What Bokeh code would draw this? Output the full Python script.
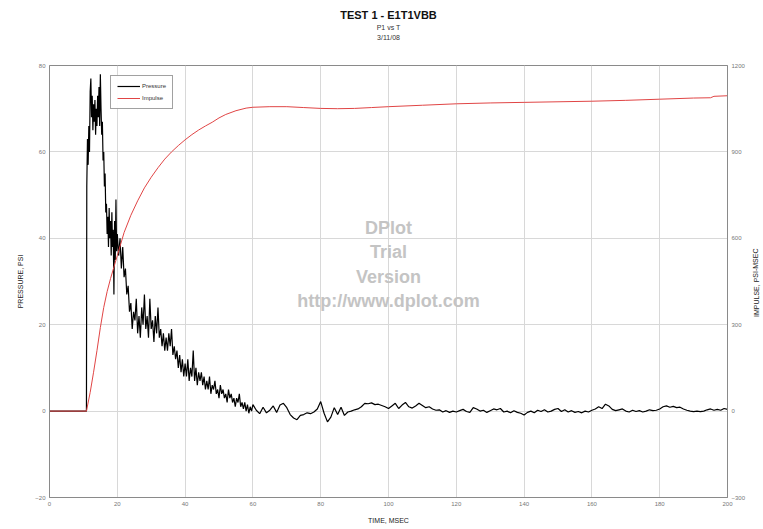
from bokeh.plotting import figure
from bokeh.layouts import row
from bokeh.models import Range1d, LinearAxis, FixedTicker, Title, Legend, LegendItem, Label
from bokeh.core.properties import value
from bokeh.embed import file_html
from bokeh.resources import INLINE

FONT = "Liberation Sans"

title_main = "TEST 1 - E1T1VBB"
title_sub = "P1 vs T"
title_date = "3/11/08"
x_label = "TIME, MSEC"
y_label = "PRESSURE, PSI"
y2_label = "IMPULSE, PSI-MSEC"

x_ticks = [0, 20, 40, 60, 80, 100, 120, 140, 160, 180, 200]
p_ticks = [-20, 0, 20, 40, 60, 80]
i_ticks = [-300, 0, 300, 600, 900, 1200]

watermark = ["DPlot", "Trial", "Version", "http://www.dplot.com"]

# Pressure (PSI): flat baseline before the arrival
pre_t = [0.0, 10.9]
pre_p = [0.0, 0.0]

# samples every 0.2 ms from 11.0 ms
seg1_start, seg1_step = 11.0, 0.2
seg1_p = [52, 63, 57, 66, 60, 74, 77, 68, 73, 65,
          71, 67, 72, 64, 70, 66, 73, 68, 75, 66,
          78, 70, 64, 67, 58, 60, 52, 55, 46, 48,
          41, 45, 38, 47, 40, 44, 36, 46, 38, 42,
          27, 44, 35, 49, 37, 41]

# samples every 0.4 ms from 20.4 ms
seg2_start, seg2_step = 20.4, 0.4
seg2_p = [36, 40, 33, 38, 31, 33, 27, 29, 23, 25,
          19, 23, 21, 26, 18, 22, 17, 24, 20, 27,
          19, 22, 17, 26, 19, 21, 16, 22, 18, 24,
          17, 19, 15, 18, 14, 17, 14, 18, 15, 19,
          13, 15, 12, 14, 10, 13, 9, 12, 8, 11,
          8, 12, 7, 10, 8, 14, 7, 10, 6, 9,
          7, 9, 6, 8, 5, 7, 5, 8, 4, 6,
          5, 7, 4, 5, 3, 6, 4, 5, 3, 4,
          2, 5, 3, 4, 2, 3, 1, 3, 2, 4,
          1, 2, 0.5, 2, 0, 1.5, -0.5, 1, 0, 1.5]

# samples every 1 ms from 61 ms
seg3_start, seg3_step = 61.0, 1.0
seg3_p = [0.2, -0.6, 0.9, -0.4, 0.2, 1.2, -0.3, 1.4, 1.8, 0.8,
          -0.8, -1.6, -2.0, -1.0, -0.8, -0.4, -0.6, -0.2, 0.5, 2.2,
          -0.5, -2.5, -1.4, 0.8, -0.8, 0.9, -1.0, -0.2, 0.0, 0.3,
          0.5, 1.0, 1.8, 1.7, 1.9, 1.5, 1.6, 1.3, 1.0, 0.6,
          1.2, 1.8, 0.6, 1.4, 2.0, 1.0, 0.7, 1.2, 1.8, 1.3,
          0.8, 1.0, 0.5, 0.2, 0.3, -0.2, 0.1, -0.3, 0.0, -0.2,
          0.1, 0.4, -0.1, -0.3, 0.8, 0.5, 0.0, 0.2, -0.3, 0.1,
          0.5, 0.3, 0.6, -0.2, 0.0, -0.4, 0.1, -0.3, -0.5, -0.9,
          -0.3, 0.0, -0.4, 0.2, -0.1, 0.3, -0.2, 0.0, 0.4, 0.6,
          -0.1, 0.3, -0.2, 0.1, -0.3, -0.1, -0.4, 0.0, -0.2, 0.2,
          0.5, 1.0, 0.6, 1.6, 1.2, 0.4, 0.1, 0.3, 0.5, 0.0,
          -0.2, 0.2, -0.1, 0.1, -0.2, 0.0, 0.3, 0.1, 0.2, 0.5,
          1.0, 1.2, 0.9, 1.1, 0.8, 0.9, 0.5, 0.2, 0.0, -0.1,
          0.0, -0.1, 0.0, 0.3, 0.5, 0.2, 0.4, 0.2, 0.6, 0.4]

# Impulse (PSI-MSEC)
imp_t = [0, 10.9, 12, 13, 14, 15, 16, 17, 18, 19,
         20, 22, 24, 26, 28, 30, 32, 34, 36, 38,
         40, 42, 44, 46, 48, 50, 52, 55, 58, 60,
         65, 70, 75, 80, 85, 90, 95, 100, 110, 120,
         130, 140, 150, 160, 170, 180, 190, 195, 196, 200]
imp_v = [0, 0, 65, 135, 210, 290, 360, 415, 460, 500,
         540, 620, 680, 730, 775, 812, 845, 875, 900, 922,
         942, 960, 976, 990, 1003, 1018, 1030, 1043, 1052, 1055,
         1057, 1057, 1054, 1051, 1050, 1051, 1054, 1057, 1062, 1067,
         1070, 1072, 1074, 1076, 1079, 1083, 1087, 1088, 1093, 1095]


def seg_times(start, step, vals):
    return [round(start + i * step, 3) for i in range(len(vals))]


p_t = pre_t + seg_times(seg1_start, seg1_step, seg1_p) + seg_times(seg2_start, seg2_step, seg2_p) + seg_times(seg3_start, seg3_step, seg3_p)
p_v = pre_p + seg1_p + seg2_p + seg3_p

p = figure(width=745, height=529, output_backend="svg", toolbar_location=None,
           x_range=Range1d(0, 200), y_range=Range1d(-20, 80),
           frame_width=678, frame_height=432,
           min_border_left=49, min_border_right=18, min_border_top=65, min_border_bottom=32,
           title=title_main)
p.extra_y_ranges = {"imp": Range1d(-300, 1200)}

p.title.align = "center"
p.title.text_font = FONT
p.title.text_font_size = "11px"
p.title.text_font_style = "bold"
p.title.text_color = "#111111"
p.title.standoff = 2
p.title.offset = 9
# spacer between the frame and the date line
p.add_layout(Title(text=" ", align="center", text_font=FONT, text_font_size="1px", standoff=21), "above")
p.add_layout(Title(text=title_date, align="center", text_font=FONT, text_font_size="7px",
                   text_font_style="normal", text_color="#333333", standoff=1, offset=9), "above")
p.add_layout(Title(text=title_sub, align="center", text_font=FONT, text_font_size="7px",
                   text_font_style="normal", text_color="#333333", standoff=1, offset=9), "above")

p.background_fill_color = "white"
p.border_fill_color = "white"
p.outline_line_color = "#8a8a8a"

grid_color = "#d8d8d8"
p.xgrid.grid_line_color = grid_color
p.ygrid.grid_line_color = grid_color
p.xaxis.ticker = FixedTicker(ticks=x_ticks)
p.yaxis.ticker = FixedTicker(ticks=p_ticks)

right = LinearAxis(y_range_name="imp", ticker=FixedTicker(ticks=i_ticks))
p.add_layout(right, "right")

p.xaxis.axis_label = x_label
p.yaxis[0].axis_label = y_label

for ax in p.axis:
    ax.axis_line_color = "#8a8a8a"
    ax.major_tick_in = 0
    ax.major_tick_out = 0
    ax.minor_tick_line_color = None
    ax.major_label_text_font = FONT
    ax.major_label_text_font_size = "6px"
    ax.major_label_text_color = "#777777"
    ax.major_label_standoff = 4
    ax.axis_label_text_font = FONT
    ax.axis_label_text_font_size = "7px"
    ax.axis_label_text_font_style = "normal"
    ax.axis_label_text_color = "#222222"
    ax.axis_label_standoff = 8

r1 = p.line(p_t, p_v, line_color="black", line_width=1.2)
r2 = p.line(imp_t, imp_v, y_range_name="imp", line_color="#e04545", line_width=1)

legend = Legend(items=[LegendItem(label="Pressure", renderers=[r1]),
                       LegendItem(label="Impulse", renderers=[r2])],
                location=(61, 388), label_text_font=FONT, label_text_font_size="6px",
                label_text_color="#333333", glyph_width=23, glyph_height=8,
                label_standoff=2, spacing=4, padding=6, margin=0,
                border_line_color="#444444", border_line_width=1,
                label_height=8)
p.add_layout(legend)

wm_y = [42.4, 36.8, 31.0, 25.5]
for txt, yy in zip(watermark, wm_y):
    p.add_layout(Label(x=100, y=yy, text=txt, text_align="center", text_baseline="middle",
                       text_color="#c4c4c4", text_font=FONT, text_font_size="18px",
                       text_font_style="bold"))

# narrow strip carrying the right-hand axis title, reading bottom to top
q = figure(width=18, height=529, output_backend="svg", toolbar_location=None,
           x_range=Range1d(0, 18), y_range=Range1d(0, 529),
           min_border=0, outline_line_color=None)
q.axis.visible = False
q.grid.visible = False
q.border_fill_color = "white"
q.text(x=[7.5], y=[263], text=[y2_label], angle=1.5708, text_align="center",
       text_baseline="middle", text_font=value(FONT), text_font_size="7px",
       text_color="#222222")

layout = row(p, q, spacing=0)

open("out.html", "w").write(file_html(layout, INLINE))
